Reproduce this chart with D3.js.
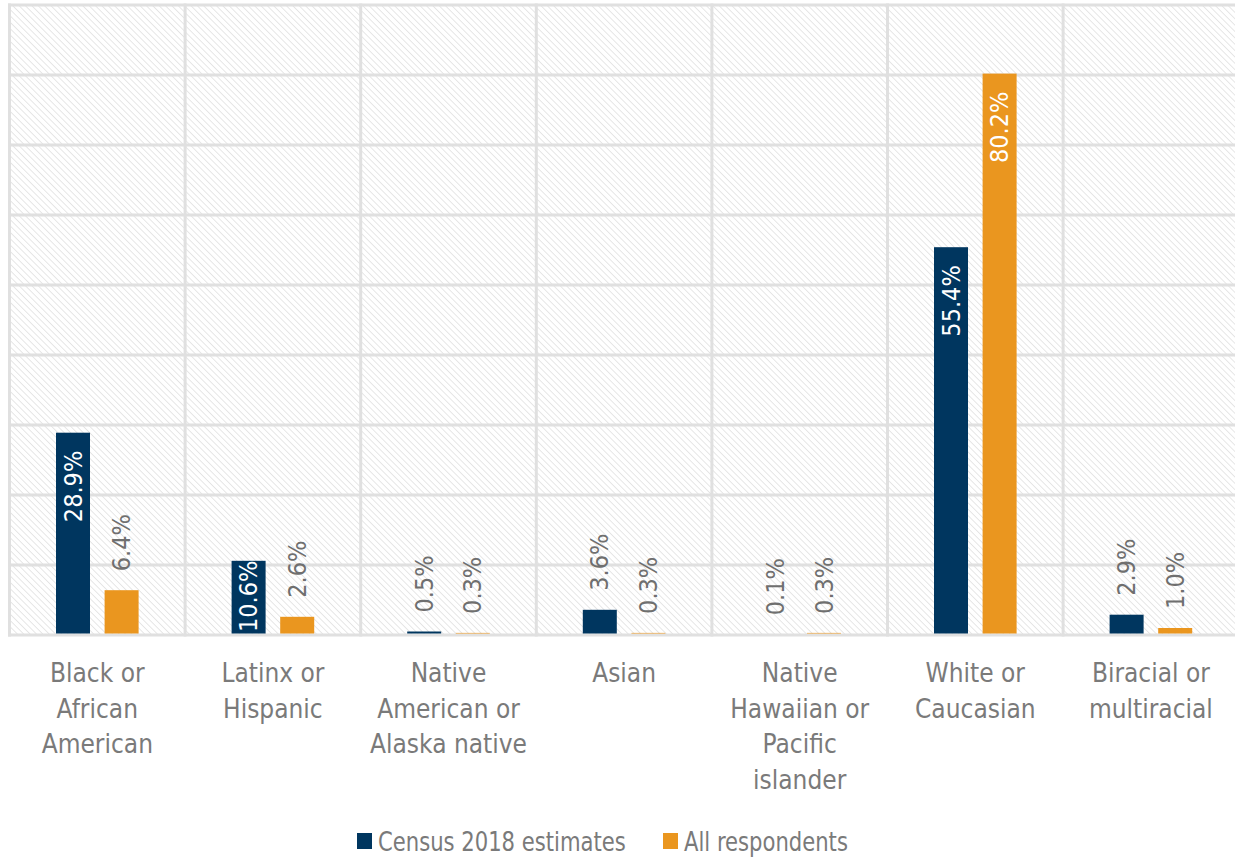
<!DOCTYPE html>
<html><head><meta charset="utf-8">
<script src="https://cdn.jsdelivr.net/npm/d3@7"></script>
<style>
html,body{margin:0;padding:0;background:#fff;}
svg{display:block;}
text{font-family:"DejaVu Sans Condensed","Liberation Sans Narrow","Roboto Condensed",sans-serif;}
</style></head>
<body>
<svg id="chart" width="1235" height="859"></svg>
<script>
const categories = [
  ["Black or","African","American"],
  ["Latinx or","Hispanic"],
  ["Native","American or","Alaska native"],
  ["Asian"],
  ["Native","Hawaiian or","Pacific","islander"],
  ["White or","Caucasian"],
  ["Biracial or","multiracial"]
];
const seriesNames = ["Census 2018 estimates","All respondents"];
const census = [28.9, 10.6, 0.5, 3.6, 0.1, 55.4, 2.9];
const respondents = [6.4, 2.6, 0.3, 0.3, 0.3, 80.2, 1.0];
const yTicks = [0,10,20,30,40,50,60,70,80,90];
const colors = ["#00365f","#ea961f"];

(function(){
const svg = d3.select("#chart");
const pLeft = 9.5, catW = 175.6, pTop = 5, pBottom = 635;
const x = d3.scaleBand().domain(d3.range(categories.length)).range([pLeft, pLeft + catW*categories.length]);
const y = d3.scaleLinear().domain([0,90]).range([pBottom, pTop]);

const defs = svg.append("defs");
const pat = defs.append("pattern").attr("id","hatch").attr("patternUnits","userSpaceOnUse")
  .attr("width",4.5).attr("height",4.5).attr("patternTransform","rotate(-45)");
pat.append("rect").attr("width",4.5).attr("height",4.5).attr("fill","#ffffff");
pat.append("line").attr("x1",0).attr("y1",0).attr("x2",0).attr("y2",4.5).attr("stroke","#e4e4e4").attr("stroke-width",1.8);

svg.append("rect").attr("x",pLeft).attr("y",pTop).attr("width",catW*categories.length).attr("height",pBottom-pTop).attr("fill","url(#hatch)");

svg.append("g").selectAll("line").data(yTicks).join("line")
  .attr("x1",pLeft-1.5).attr("x2",pLeft+catW*categories.length)
  .attr("y1",d=>y(d)).attr("y2",d=>y(d))
  .attr("stroke","#e0e0e0").attr("stroke-width",3);
svg.append("g").selectAll("line").data(d3.range(categories.length+1)).join("line")
  .attr("x1",d=>pLeft+d*catW).attr("x2",d=>pLeft+d*catW)
  .attr("y1",pTop-1.5).attr("y2",pBottom+1.5)
  .attr("stroke","#e0e0e0").attr("stroke-width",3);

const barW = 34, off = 24.3;
const series = [census, respondents];
series.forEach((vals, s) => {
  const g = svg.append("g");
  vals.forEach((v, i) => {
    const cx = x(i) + x.bandwidth()/2 + (s===0 ? -off : off);
    const yt = y(v);
    g.append("rect").attr("x",cx-barW/2).attr("y",yt).attr("width",barW).attr("height",Math.max(0,pBottom-yt-1.5))
      .attr("fill",colors[s]);
    const label = v.toFixed(1) + "%";
    const t = g.append("text").attr("font-size",25).text(label);
    if (v >= 10) {
      const len = t.node().getComputedTextLength();
      let endY = yt + 18;
      if (endY + len > pBottom - 3) endY = pBottom - 3 - len;
      t.attr("fill","#ffffff").attr("text-anchor","end")
       .attr("transform",`translate(${cx+8.5},${endY}) rotate(-90)`);
    } else {
      t.attr("fill","#6f6f6f").attr("text-anchor","start")
       .attr("transform",`translate(${cx+8.5},${yt-19}) rotate(-90)`);
    }
  });
});

const lab = svg.append("g");
categories.forEach((lines, i) => {
  const t = lab.append("text").attr("text-anchor","middle").attr("font-size",26).attr("fill","#7a7a7a");
  lines.forEach((ln, k) => {
    t.append("tspan").attr("x", x(i)+x.bandwidth()/2).attr("y", 682 + k*35.5).text(ln);
  });
});

const legX = [357, 663];
seriesNames.forEach((n, s) => {
  svg.append("rect").attr("x",legX[s]).attr("y",833).attr("width",15).attr("height",16).attr("fill",colors[s]);
  svg.append("text").attr("transform",`translate(${legX[s]+21},851) scale(0.87,1)`)
    .attr("font-size",27).attr("fill","#7a7a7a").text(n);
});
})();
</script>
</body></html>
